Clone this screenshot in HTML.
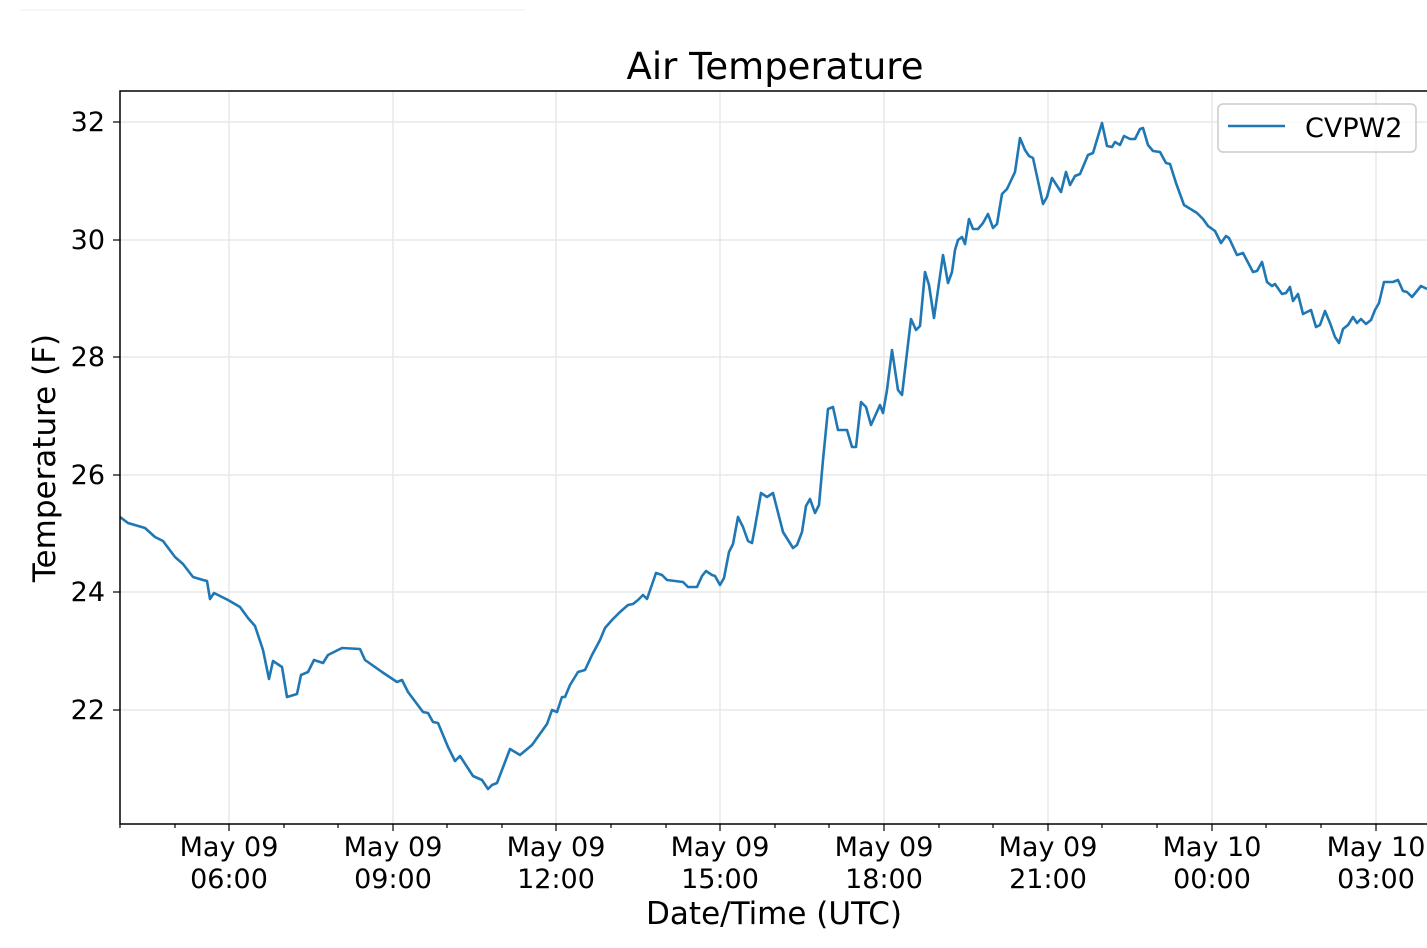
<!DOCTYPE html>
<html><head><meta charset="utf-8"><style>
body{margin:0;background:#fff;}
svg{display:block;font-family:"DejaVu Sans","Liberation Sans",sans-serif;}
</style></head><body>
<svg width="1427" height="948" viewBox="0 0 1427 948" xmlns="http://www.w3.org/2000/svg">
<rect width="1427" height="948" fill="#fff"/>
<line x1="20" y1="10" x2="525" y2="10" stroke="#eee" stroke-width="1"/>
<g stroke="#e8e8e8" stroke-width="1.5">
<line x1="120" y1="122" x2="1427" y2="122"/><line x1="120" y1="240" x2="1427" y2="240"/>
<line x1="120" y1="357" x2="1427" y2="357"/><line x1="120" y1="475" x2="1427" y2="475"/>
<line x1="120" y1="592" x2="1427" y2="592"/><line x1="120" y1="710" x2="1427" y2="710"/>
<line x1="229" y1="91" x2="229" y2="824"/><line x1="393" y1="91" x2="393" y2="824"/>
<line x1="556" y1="91" x2="556" y2="824"/><line x1="720" y1="91" x2="720" y2="824"/>
<line x1="884" y1="91" x2="884" y2="824"/><line x1="1048" y1="91" x2="1048" y2="824"/>
<line x1="1212" y1="91" x2="1212" y2="824"/><line x1="1376" y1="91" x2="1376" y2="824"/>
</g>
<polyline fill="none" stroke="#1f77b4" stroke-width="2.6" stroke-linejoin="round" points="120,517 128,523 145,528 155,537 163,541 175,557 183,564 193,577 203,580 207,581 210,599 214,593 228,600 240,607 248,618 255,626 263,650 269,679 273,661 282,667 287,697 297,694 301,675 308,672 314,660 323,663 328,655 342,648 360,649 365,660 382,672 397,682 402,680 408,692 423,712 428,713 433,722 438,723 448,747 455,761 460,756 473,776 482,780 488,789 492,785 497,783 510,749 520,755 532,745 547,724 552,710 557,712 562,697 565,697 570,685 578,672 585,670 592,655 600,640 605,628 612,620 620,612 628,605 633,604 638,600 643,595 647,599 656,573 662,575 667,580 683,582 688,587 697,587 702,576 706,571 712,575 715,576 720,585 724,578 729,552 733,544 738,517 743,527 748,541 752,543 755,527 761,493 767,497 773,493 783,532 793,548 797,545 802,532 806,506 810,499 815,513 819,505 823,460 828,409 833,407 838,430 847,430 852,447 856,447 861,402 866,407 871,425 880,405 883,413 887,390 892,350 898,390 902,395 911,319 916,330 920,326 925,272 929,285 934,318 943,255 948,283 952,272 955,250 958,240 962,237 965,244 969,219 973,229 978,229 983,223 988,214 993,228 997,224 1002,194 1007,189 1015,172 1020,138 1025,150 1029,156 1033,158 1043,204 1047,197 1052,178 1061,192 1066,172 1070,185 1075,176 1080,174 1088,155 1093,153 1102,123 1107,146 1112,147 1115,142 1120,145 1124,136 1130,139 1135,139 1140,129 1143,128 1148,145 1153,151 1160,152 1166,163 1170,164 1176,183 1184,205 1197,213 1203,219 1208,226 1215,231 1221,243 1226,236 1229,238 1237,255 1243,253 1253,272 1257,271 1262,262 1267,282 1272,286 1275,284 1282,294 1286,293 1290,287 1293,301 1298,294 1303,314 1311,310 1316,327 1320,325 1325,311 1330,323 1335,337 1339,343 1343,329 1348,325 1353,317 1357,323 1361,319 1366,324 1371,320 1375,310 1379,303 1384,282 1393,282 1398,280 1403,291 1407,292 1412,297 1421,286 1427,289"/>
<g stroke="#000" stroke-width="1.5" fill="none">
<polyline points="1427,91 120,91 120,824 1427,824"/>
</g>
<g stroke="#000" stroke-width="1.2">
<line x1="113" y1="122" x2="120" y2="122"/><line x1="113" y1="240" x2="120" y2="240"/>
<line x1="113" y1="357" x2="120" y2="357"/><line x1="113" y1="475" x2="120" y2="475"/>
<line x1="113" y1="592" x2="120" y2="592"/><line x1="113" y1="710" x2="120" y2="710"/>
<line x1="229" y1="824" x2="229" y2="831"/><line x1="393" y1="824" x2="393" y2="831"/>
<line x1="556" y1="824" x2="556" y2="831"/><line x1="720" y1="824" x2="720" y2="831"/>
<line x1="884" y1="824" x2="884" y2="831"/><line x1="1048" y1="824" x2="1048" y2="831"/>
<line x1="1212" y1="824" x2="1212" y2="831"/><line x1="1376" y1="824" x2="1376" y2="831"/>
<line x1="120" y1="824" x2="120" y2="828"/><line x1="175" y1="824" x2="175" y2="828"/>
<line x1="284" y1="824" x2="284" y2="828"/><line x1="338" y1="824" x2="338" y2="828"/>
<line x1="447" y1="824" x2="447" y2="828"/><line x1="502" y1="824" x2="502" y2="828"/>
<line x1="611" y1="824" x2="611" y2="828"/><line x1="666" y1="824" x2="666" y2="828"/>
<line x1="775" y1="824" x2="775" y2="828"/><line x1="829" y1="824" x2="829" y2="828"/>
<line x1="939" y1="824" x2="939" y2="828"/><line x1="993" y1="824" x2="993" y2="828"/>
<line x1="1102" y1="824" x2="1102" y2="828"/><line x1="1157" y1="824" x2="1157" y2="828"/>
<line x1="1266" y1="824" x2="1266" y2="828"/><line x1="1321" y1="824" x2="1321" y2="828"/>
</g>
<g font-size="27" fill="#000" text-anchor="end">
<text x="105" y="131">32</text><text x="105" y="249">30</text><text x="105" y="366">28</text>
<text x="105" y="484">26</text><text x="105" y="601">24</text><text x="105" y="719">22</text>
</g>
<g font-size="27" fill="#000" text-anchor="middle">
<text x="229" y="856">May 09</text><text x="229" y="888">06:00</text>
<text x="393" y="856">May 09</text><text x="393" y="888">09:00</text>
<text x="556" y="856">May 09</text><text x="556" y="888">12:00</text>
<text x="720" y="856">May 09</text><text x="720" y="888">15:00</text>
<text x="884" y="856">May 09</text><text x="884" y="888">18:00</text>
<text x="1048" y="856">May 09</text><text x="1048" y="888">21:00</text>
<text x="1212" y="856">May 10</text><text x="1212" y="888">00:00</text>
<text x="1376" y="856">May 10</text><text x="1376" y="888">03:00</text>
<text x="774" y="924" font-size="31">Date/Time (UTC)</text>
<text x="775" y="79" font-size="37">Air Temperature</text>
<text transform="translate(55,458) rotate(-90)" font-size="31">Temperature (F)</text>
</g>
<rect x="1218" y="104" width="198" height="48" rx="5" fill="#fff" fill-opacity="0.8" stroke="#ccc" stroke-width="1.5"/>
<line x1="1228" y1="126" x2="1285" y2="126" stroke="#1f77b4" stroke-width="2.6"/>
<text x="1305" y="137" font-size="27" fill="#000">CVPW2</text>
</svg>
</body></html>
